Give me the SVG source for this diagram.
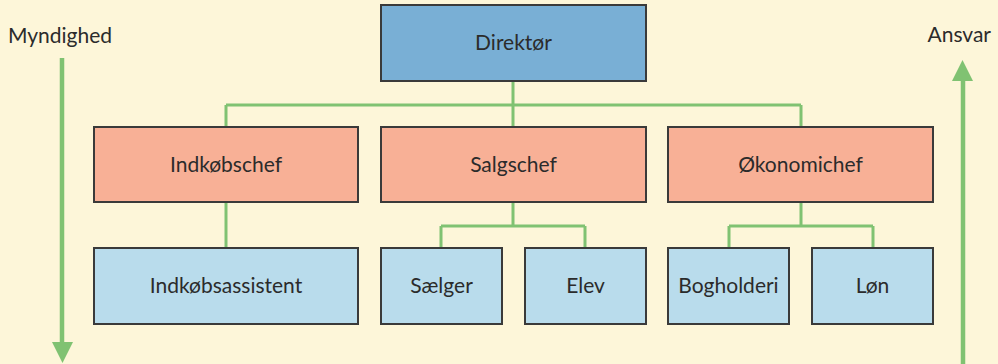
<svg xmlns="http://www.w3.org/2000/svg" width="998" height="364" viewBox="0 0 998 364">
  <style>
    .box { stroke: #3a3a3a; stroke-width: 2; }
    .top { fill: #79afd5; }
    .mid { fill: #f8b096; }
    .low { fill: #b9dcec; }
    .lbl { font-family: Lato, "Open Sans", sans-serif; font-size: 21px; fill: #2b2b2b; text-anchor: middle; }
    .side { font-family: Lato, "Open Sans", sans-serif; font-size: 21px; fill: #2b2b2b; }
    .wire { fill: none; stroke: #80c272; stroke-width: 3; }
    .shaft { fill: none; stroke: #80c272; stroke-width: 4.5; }
    .head { fill: #80c272; }
  </style>
  <rect width="998" height="364" fill="#fdf6d9"/>

  <!-- connectors -->
  <g id="connectors">
    <path class="wire" d="M513 81 V127 M226 105 H801 M226 105 V127 M801 105 V127"/>
    <path class="wire" d="M226 202 V248"/>
    <path class="wire" d="M513 202 V226 M441 226 H585 M441 226 V248 M585 226 V248"/>
    <path class="wire" d="M801 202 V226 M729 226 H873 M729 226 V248 M873 226 V248"/>
  </g>

  <!-- side arrows -->
  <g id="authority">
    <text class="side" x="8" y="43">Myndighed</text>
    <line class="shaft" x1="62" y1="58" x2="62" y2="344"/>
    <polygon class="head" points="52,342 73,342 62.5,363"/>
  </g>
  <g id="responsibility">
    <text class="side" x="991" y="42" text-anchor="end">Ansvar</text>
    <line class="shaft" x1="963" y1="364" x2="963" y2="79"/>
    <polygon class="head" points="952,81 973,81 962.5,60"/>
  </g>

  <!-- top level -->
  <g id="direktor">
    <rect class="box top" x="381" y="5" width="265" height="76"/>
    <text class="lbl" x="513.5" y="50">Direktør</text>
  </g>

  <!-- middle level -->
  <g id="indkobschef">
    <rect class="box mid" x="94" y="127" width="264" height="75"/>
    <text class="lbl" x="226" y="172">Indkøbschef</text>
  </g>
  <g id="salgschef">
    <rect class="box mid" x="381" y="127" width="265" height="75"/>
    <text class="lbl" x="513.5" y="172">Salgschef</text>
  </g>
  <g id="okonomichef">
    <rect class="box mid" x="668" y="127" width="265" height="75"/>
    <text class="lbl" x="800.5" y="172">Økonomichef</text>
  </g>

  <!-- bottom level -->
  <g id="indkobsassistent">
    <rect class="box low" x="94" y="248" width="264" height="76"/>
    <text class="lbl" x="226" y="293">Indkøbsassistent</text>
  </g>
  <g id="saelger">
    <rect class="box low" x="381" y="248" width="121" height="76"/>
    <text class="lbl" x="441.5" y="293">Sælger</text>
  </g>
  <g id="elev">
    <rect class="box low" x="525" y="248" width="121" height="76"/>
    <text class="lbl" x="585.5" y="293">Elev</text>
  </g>
  <g id="bogholderi">
    <rect class="box low" x="668" y="248" width="121" height="76"/>
    <text class="lbl" x="728.5" y="293">Bogholderi</text>
  </g>
  <g id="lon">
    <rect class="box low" x="812" y="248" width="121" height="76"/>
    <text class="lbl" x="872.5" y="293">Løn</text>
  </g>
</svg>
